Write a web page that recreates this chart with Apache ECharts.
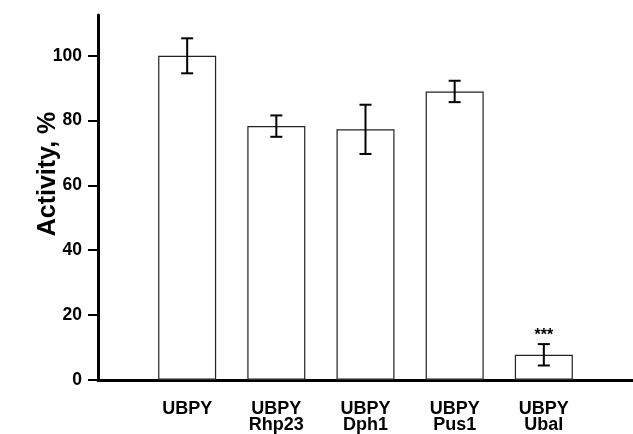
<!DOCTYPE html>
<html>
<head>
<meta charset="utf-8">
<script src="https://cdn.jsdelivr.net/npm/echarts@6/dist/echarts.min.js"></script>
<style>html,body{margin:0;padding:0;background:#fff}#c{width:633px;height:434px}</style>
</head>
<body>
<div id="c"></div>
<script>
var categories = ['UBPY', 'UBPY\nRhp23', 'UBPY\nDph1', 'UBPY\nPus1', 'UBPY\nUbal'];
var activity = [100, 78.3, 77.3, 89.0, 7.7];
var errors = [5.4, 3.3, 7.6, 3.3, 3.3];
var significance = ['', '', '', '', '***'];
var yTicks = [0, 20, 40, 60, 80, 100];

var positions = categories.map(function (c, i) { return i + 1; });
var barData = activity.map(function (v, i) { return [positions[i], v]; });
var errData = activity.map(function (v, i) { return [positions[i], v, errors[i], significance[i]]; });

var chart = echarts.init(document.getElementById('c'));
chart.setOption({
  animation: false,
  backgroundColor: '#fff',
  grid: { left: 98, right: 0, top: 15, bottom: 52.5 },
  xAxis: {
    type: 'value', min: 0, max: 6, interval: 1,
    splitLine: { show: false },
    axisLine: { show: true, lineStyle: { color: '#000', width: 3 } },
    axisTick: { show: false },
    axisLabel: {
      customValues: positions,
      formatter: function (v) { return categories[Math.round(v) - 1] || ''; },
      fontFamily: 'Liberation Sans', fontWeight: 'bold', fontSize: 18, color: '#000',
      lineHeight: 15.5, margin: 22
    }
  },
  yAxis: {
    type: 'value', min: 0, max: 112.6,
    splitLine: { show: false },
    axisLine: { show: true, lineStyle: { color: '#000', width: 3 } },
    axisTick: { show: true, customValues: yTicks, length: 10, lineStyle: { color: '#000', width: 2 } },
    axisLabel: {
      customValues: yTicks,
      fontFamily: 'Liberation Sans', fontWeight: 'bold', fontSize: 17.5, color: '#000', margin: 16
    }
  },
  graphic: [{
    type: 'text', x: 48, y: 174, rotation: Math.PI / 2,
    style: { text: 'Activity, %', fontFamily: 'Liberation Sans', fontWeight: 'bold', fontSize: 25,
      fill: '#000', align: 'center', verticalAlign: 'middle' }
  }],
  series: [{
    type: 'bar', data: barData, barWidth: 58,
    itemStyle: { color: '#fff', borderColor: '#222', borderWidth: 1.2 },
    z: 2
  }, {
    type: 'custom', data: errData, z: 5,
    renderItem: function (params, api) {
      var x = api.value(0), v = api.value(1), e = api.value(2);
      var mark = significance[params.dataIndex];
      var top = api.coord([x, v + e]);
      var bot = api.coord([x, v - e]);
      var hw = 6;
      var st = { stroke: '#000', lineWidth: 2 };
      var children = [
        { type: 'line', shape: { x1: top[0], y1: top[1], x2: bot[0], y2: bot[1] }, style: st },
        { type: 'line', shape: { x1: top[0] - hw, y1: top[1], x2: top[0] + hw, y2: top[1] }, style: st },
        { type: 'line', shape: { x1: bot[0] - hw, y1: bot[1], x2: bot[0] + hw, y2: bot[1] }, style: st }
      ];
      if (mark) {
        children.push({ type: 'text', x: top[0], y: top[1] - 9,
          style: { text: mark, fontFamily: 'Liberation Sans', fontWeight: 'bold', fontSize: 16,
            fill: '#000', align: 'center', verticalAlign: 'middle' } });
      }
      return { type: 'group', children: children };
    }
  }]
});
</script>
</body>
</html>
